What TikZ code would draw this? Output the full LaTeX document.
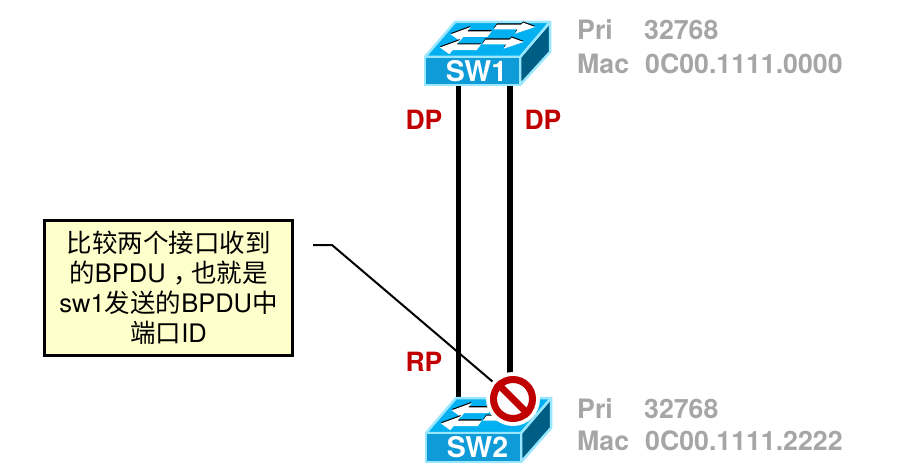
\documentclass[tikz,border=0pt]{standalone}
\usepackage{fontspec}
\setmainfont{TeX Gyre Heros}
\newfontfamily\cjk{Noto Sans CJK SC}
\usetikzlibrary{backgrounds}
\definecolor{cred}{HTML}{C00000}
\definecolor{cgray}{HTML}{A6A6A6}
\definecolor{cnote}{HTML}{FFFFCC}
\definecolor{cfront}{HTML}{0F9BD7}
\definecolor{ctop}{HTML}{00B0F0}
\definecolor{cside}{HTML}{005E85}
\definecolor{cedge}{HTML}{99E6FF}
\newcommand{\zh}[1]{{\cjk #1}}
\newcommand{\leftarw}[2]{%
  \fill[black,shift={(#1,#2)}] (0,-1.2) -- (20,-8.5) -- (16.6,-4.2) -- (41,-4.2) -- (36.6,1.5) -- (12.6,1.5) -- (9.3,5.5) -- cycle;
  \fill[white,shift={(#1,#2)}] (0,0) -- (20,-7.3) -- (16.6,-3) -- (41,-3) -- (36.6,2.7) -- (12.6,2.7) -- (9.3,6.7) -- cycle;}
\newcommand{\rightarw}[2]{%
  \fill[black,shift={(#1,#2)}] (0,-1.2) -- (-11.7,-5.5) -- (-14,-3.5) -- (-38,-3.5) -- (-41.5,1.3) -- (-17.5,1.3) -- (-20,5.5) -- cycle;
  \fill[white,shift={(#1,#2)}] (0,0) -- (-11.7,-4.3) -- (-14,-2.3) -- (-38,-2.3) -- (-41.5,2.5) -- (-17.5,2.5) -- (-20,6.7) -- cycle;}
\newcommand{\switchicon}[4]{%
  \begin{scope}[shift={(#2,#3)}]
    \filldraw[fill=cside,draw=cedge,line width=2.5pt,line join=round] (95,0) -- (125,-35) -- (125,-5) -- (95,#4) -- cycle;
    \filldraw[fill=ctop,draw=cedge,line width=2.5pt,line join=round] (0,0) -- (30,-35) -- (125,-35) -- (95,0) -- cycle;
    \leftarw{25.7}{-22.7}
    \rightarw{110}{-30}
    \leftarw{15}{-9.5}
    \rightarw{98.5}{-15}
  \end{scope}
  \node[front,minimum height=#4pt] (#1) at (#2+47.5,#3+#4/2) {\hspace*{8pt}\MakeUppercase{#1}};}
\begin{document}
\begin{tikzpicture}[x=1pt,y=-1pt,
    front/.style={draw=cedge,fill=cfront,line width=2.5pt,minimum width=95pt,inner sep=0pt,
                  text=white,font=\fontsize{28.5}{28.5}\selectfont\bfseries},
    tag/.style={text=cred,font=\fontsize{26.5}{26.5}\selectfont\bfseries,inner sep=0pt,anchor=center},
    info/.style={text=cgray,font=\fontsize{26.7}{26.7}\selectfont\bfseries,inner sep=0pt,anchor=base west},
    note/.style={draw=black,fill=cnote,line width=2.5pt,minimum width=248pt,minimum height=135pt,
                 inner sep=0pt,align=center,font=\fontsize{25.5}{30}\selectfont},
    link/.style={draw=black,line width=5.5pt},
    leader/.style={draw=black,line width=2pt}]
    \useasboundingbox (0,0) rectangle (920,476);
    \switchicon{sw1}{425}{57}{28}
    \switchicon{sw2}{426}{433}{29}
    \node[tag] (dpl) at (424,120) {DP};
    \node[tag] (dpr) at (543,120) {DP};
    \node[tag] (rpl) at (424,362) {RP};
    \node[info] (pri1) at (577,39.5) {Pri};
    \node[info] (prv1) at (644,39.5) {32768};
    \node[info] (mac1) at (577,73.5) {Mac};
    \node[info] (mav1) at (645,73.5) {0C00.1111.0000};
    \node[info] (pri2) at (577,418) {Pri};
    \node[info] (prv2) at (644,418) {32768};
    \node[info] (mac2) at (577,450) {Mac};
    \node[info] (mav2) at (645,450) {0C00.1111.2222};
    \node[note] (note) at (168.5,288) {\zh{比较两个接口收到}\\\zh{的}BPDU\zh{\kern.3em，\kern-.3em也就是}\\sw1\zh{发送的}BPDU\zh{中}\\\zh{端口}ID};
    \fill[white] (513,399) circle (27);
    \node[circle,draw=cred,fill=white,line width=7pt,minimum size=39pt,inner sep=0pt] (block) at (513,399) {};
    \draw[cred,line width=7pt] (block.135) -- (block.-45);
    \coordinate (elbow) at (332,245);
    \coordinate (free) at (313,245);
    \coordinate (ltop) at ([xshift=-14pt]sw1.south);
    \coordinate (rtop) at ([xshift=37.5pt]sw1.south);
    \begin{scope}[on background layer]
      \draw[link] (ltop) -- (ltop |- sw2.north);
      \draw[link] (rtop) -- (rtop |- block.north);
      \draw[leader] (free) -- (elbow) -- (block);
    \end{scope}
  \end{tikzpicture}
\end{document}
